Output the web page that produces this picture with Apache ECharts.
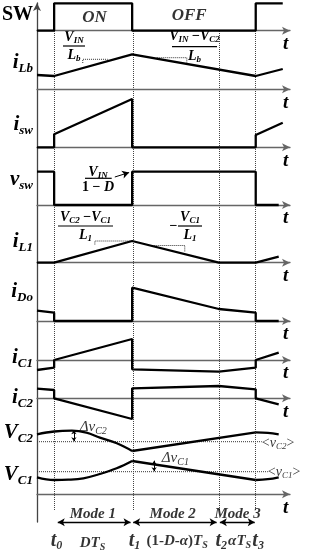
<!DOCTYPE html>
<html><head><meta charset="utf-8">
<script src="https://cdn.jsdelivr.net/npm/echarts@6/dist/echarts.min.js"></script>
<style>html,body{margin:0;padding:0;background:#fff}#c{width:309px;height:550px}</style>
</head><body><div id="c"></div>
<script>
// ---- time instants (units of Ts, t0 = 0) ----
const T0 = 0, T1 = 0.387, T2 = 0.817, T3 = 1.0;
const X_MIN = -0.085, X_MAX = 1.17;

// ---- waveforms (time, value) ----
const swT  = [-0.085, 0, 0, 0.387, 0.387, 1, 1, 1.134];
const swV  = [0, 0, 2.74, 2.74, 0, 0, 2.74, 2.74];
const iLbT = [-0.085, 0, 0.387, 1, 1.134];
const iLbV = [1.43, 1.33, 3.5, 1.33, 2.03];
const iswT = [-0.085, 0, 0, 0.387, 0.387, 1, 1, 1.134];
const iswV = [0, 0, 1.3, 4.83, 0, 0, 1.23, 2.46];
const vswT = [-0.085, 0, 0, 0.387, 0.387, 1, 1, 1.114];
const vswV = [3.33, 3.33, 0, 0, 3.33, 3.33, 0, 0];
const iL1T = [-0.085, 0, 0.387, 0.817, 1, 1.114];
const iL1V = [0, 0, 2.17, 0, 0, 0.6];
const iDoT = [-0.085, 0, 0, 0.387, 0.387, 0.817, 1, 1, 1.114];
const iDoV = [1.03, 0.83, 0, 0, 3.33, 1.2, 0.83, 0, 0];
const iC1T = [-0.085, 0, 0, 0.387, 0.387, 0.817, 1, 1, 1.114];
const iC1V = [-1.0, -0.77, 0, 2.1, -0.93, -1.17, -0.77, 0, 0.73];
const iC2T = [-0.085, 0, 0, 0.387, 0.387, 0.817, 1, 1, 1.114];
const iC2V = [0.96, 0.83, 0, -2.07, 1.0, 1.23, 0.9, 0, -0.6];
// capacitor voltages (deviation from mean): curved, linear, curved parts
const vC2aT = [-0.085, 0, 0.088, 0.16, 0.227, 0.311, 0.387];
const vC2aV = [0.74, 1.02, 1.1, 0.9, 0.4, -0.16, -0.93];
const vC2bT = [0.387, 1.0];
const vC2bV = [-0.93, 0.94];
const vC2cT = [1.0, 1.06, 1.114];
const vC2cV = [0.94, 0.88, 0.74];
const vC1aT = [-0.085, 0, 0.07, 0.145, 0.227, 0.31, 0.387];
const vC1aV = [-0.56, -0.83, -0.8, -0.66, -0.23, 0.34, 1.07];
const vC1bT = [0.387, 1.0];
const vC1bV = [1.07, -0.83];
const vC1cT = [1.0, 1.06, 1.114];
const vC1cV = [-0.83, -0.75, -0.56];
// slope-marker dotted corners
const lbSlope1T = [0.142, 0.142, 0.266], lbSlope1V = [2.63, 3.0, 3.0];
const lbSlope2T = [0.509, 0.658, 0.658], lbSlope2V = [3.16, 3.16, 2.68];
const l1Slope1T = [0.202, 0.202, 0.38], l1Slope1V = [1.82, 2.17, 2.17];
const l1Slope2T = [0.474, 0.648, 0.648], l1Slope2V = [1.72, 1.72, 1.07];
// modes
const modeNames = ['Mode 1', 'Mode 2', 'Mode 3'];
const modeStart = [0.018, 0.392, 0.822];
const modeEnd   = [0.379, 0.806, 0.995];
const modeMid   = [0.192, 0.588, 0.91];
// bottom time labels
const instantT = [T0, T1, T2, T3];
const instantLabels = ['{m|t}{s|0}', '{m|t}{s|1}', '{m|t}{s|2}', '{m|t}{s|3}'];

const SERIF = '"Liberation Serif","DejaVu Serif",serif';
const AX = '#666';
const zip = (t, v) => t.map((x, i) => [x, v[i]]);

// panel layout: [top, height, ymin, ymax, axisMode]
const panels = [
  [2.7, 28, 0, 2.8, 'zero'],      // 0 SW
  [49.3, 40, 0, 4, 'zero'],       // 1 iLb
  [97.3, 50, 0, 5, 'zero'],       // 2 isw
  [170, 35, 0, 3.5, 'zero'],      // 3 vsw
  [237.7, 25, 0, 2.5, 'zero'],    // 4 iL1
  [286, 35, 0, 3.5, 'zero'],      // 5 iDo
  [335, 40, -1.5, 2.5, 'zero'],   // 6 iC1
  [383.3, 40, -2.5, 1.5, 'zero'], // 7 iC2
  [426.7, 30, -1.5, 1.5, 'none'], // 8 VC2
  [456.7, 37.6, -2.26, 1.5, 'bottom'], // 9 VC1
  [31, 479, 0, 1, 'none'],        // 10 dotted overlay
  [3, 519, 0, 1, 'none'],         // 11 left axis
  [505, 45, -1, 3.5, 'none']      // 12 mode annotations
];

const grid = [], xAxis = [], yAxis = [];
panels.forEach((p, i) => {
  grid.push({left: 37, right: 19, top: p[0], height: p[1]});
  const show = p[4] !== 'none';
  xAxis.push({
    type: 'value', gridIndex: i, min: X_MIN, max: X_MAX, show: show,
    axisLine: {show: show, onZero: p[4] === 'zero', symbol: ['none', 'arrow'], symbolSize: [6, 8],
      lineStyle: {color: AX, width: 1.3}},
    axisTick: {show: false}, axisLabel: {show: false}, splitLine: {show: false},
    name: 't', nameLocation: 'end', nameGap: -7,
    nameTextStyle: {fontFamily: SERIF, fontSize: 19, fontWeight: 'bold', fontStyle: 'italic', color: '#000',
      verticalAlign: 'top', padding: [4, 0, 0, 0]}
  });
  yAxis.push({
    type: 'value', gridIndex: i, min: p[2], max: p[3], show: i === 11,
    axisLine: {show: i === 11, onZero: false, symbol: ['none', 'arrow'], symbolSize: [6, 8],
      lineStyle: {color: '#444', width: 1.3}},
    axisTick: {show: false}, axisLabel: {show: false}, splitLine: {show: false}
  });
});

const series = [];
function wave(gi, t, v, extra) {
  series.push(Object.assign({type: 'line', xAxisIndex: gi, yAxisIndex: gi, data: zip(t, v), symbol: 'none',
    lineStyle: {color: '#000', width: 2.3}, animation: false, silent: true, clip: false, z: 5}, extra || {}));
}
function dotted(gi, t, v) {
  series.push({type: 'line', xAxisIndex: gi, yAxisIndex: gi, data: zip(t, v), symbol: 'none',
    lineStyle: {color: '#333', width: 1, type: 'dotted'}, animation: false, silent: true, z: 4});
}
function text(gi, x, y, fmt, rich, extra) {
  series.push({type: 'scatter', xAxisIndex: gi, yAxisIndex: gi, data: [[x, y]], symbolSize: 0, silent: true,
    animation: false, z: 6, clip: false,
    label: Object.assign({show: true, position: 'inside', formatter: fmt, rich: rich, color: '#000'}, extra || {})});
}

const BI = {fontFamily: SERIF, fontWeight: 'bold', fontStyle: 'italic', color: '#000'};
const mk = (o) => Object.assign({}, BI, o);

wave(0, swT, swV);
wave(1, iLbT, iLbV);
wave(2, iswT, iswV);
wave(3, vswT, vswV, {markLine: {silent: true, symbol: ['none', 'arrow'], symbolSize: [6, 7], animation: false,
  label: {show: false}, lineStyle: {color: '#000', width: 1, type: 'solid'},
  data: [[{coord: [0.301, 2.8]}, {coord: [0.372, 3.25]}]]}});
wave(4, iL1T, iL1V);
wave(5, iDoT, iDoV);
wave(6, iC1T, iC1V);
wave(7, iC2T, iC2V);
wave(8, vC2aT, vC2aV, {smooth: 0.4});
wave(8, vC2bT, vC2bV);
wave(8, vC2cT, vC2cV, {smooth: 0.4});
wave(9, vC1aT, vC1aV, {smooth: 0.4});
wave(9, vC1bT, vC1bV);
wave(9, vC1cT, vC1cV, {smooth: 0.4});

dotted(1, lbSlope1T, lbSlope1V);
dotted(1, lbSlope2T, lbSlope2V);
dotted(4, l1Slope1T, l1Slope1V);
dotted(4, l1Slope2T, l1Slope2V);
dotted(8, [X_MIN, 1.03], [0, 0]);
dotted(9, [X_MIN, 1.06], [0, 0]);

// delta arrows
function dArrow(gi, x, y0, y1) {
  series.push({type: 'line', xAxisIndex: gi, yAxisIndex: gi, data: [], animation: false, silent: true,
    markLine: {silent: true, symbol: ['arrow', 'arrow'], symbolSize: [4, 4], animation: false, label: {show: false},
      lineStyle: {color: '#000', width: 1, type: 'solid'}, data: [[{coord: [x, y0]}, {coord: [x, y1]}]]}});
}
dArrow(8, 0.098, 0.05, 1.15);
dArrow(9, 0.496, 0.05, 1.1);

// vertical dotted lines at t0..t3
series.push({type: 'line', xAxisIndex: 10, yAxisIndex: 10, data: [], animation: false, silent: true,
  markLine: {silent: true, symbol: 'none', animation: false, label: {show: false},
    lineStyle: {color: '#444', width: 1, type: 'dotted'},
    data: instantT.map(t => ({xAxis: t}))}});

// mode arrows
series.push({type: 'line', xAxisIndex: 12, yAxisIndex: 12, data: [], animation: false, silent: true,
  markLine: {silent: true, symbol: ['arrow', 'arrow'], symbolSize: [6, 7], animation: false, label: {show: false},
    lineStyle: {color: '#000', width: 1.3, type: 'solid'},
    data: modeNames.map((n, i) => [{coord: [modeStart[i], 1.77]}, {coord: [modeEnd[i], 1.77]}])}});
modeNames.forEach((n, i) => text(12, modeMid[i], 2.6, n, {}, mk({fontSize: 15})));

const RT = {m: mk({fontSize: 20, lineHeight: 22}), s: mk({fontSize: 12, lineHeight: 12, verticalAlign: 'bottom'})};
instantT.forEach((t, i) => text(12, t + 0.012, -0.05, instantLabels[i], RT));
const RS = {a: mk({fontSize: 15, lineHeight: 18}), b: mk({fontSize: 15, lineHeight: 18, fontStyle: 'normal'}),
  s: mk({fontSize: 10, lineHeight: 10, verticalAlign: 'bottom'})};
text(12, 0.19, -0.3, '{a|DT}{s|S}', RS);
text(12, 0.61, -0.1, '{b|(1-}{a|D}{b|-}{a|α}{b|)}{a|T}{s|S}', RS);
text(12, 0.92, -0.1, '{a|αT}{s|S}', RS);

// ON / OFF
text(0, 0.2, 1.35, 'ON', {}, mk({fontSize: 17}));
text(0, 0.67, 1.55, 'OFF', {}, mk({fontSize: 17}));

// delta labels / mean labels
const RD = {a: mk({fontSize: 15, lineHeight: 18, fontWeight: 'normal'}), s: mk({fontSize: 10, lineHeight: 10, verticalAlign: 'bottom', fontWeight: 'normal'})};
text(8, 0.127, 1.44, '{a|Δv}{s|C2}', RD, {position: 'right', distance: 0});
text(9, 0.534, 1.37, '{a|Δv}{s|C1}', RD, {position: 'right', distance: 0});
const RM = {a: mk({fontSize: 14, lineHeight: 16, fontWeight: 'normal', fontStyle: 'normal'}), v: mk({fontSize: 14, lineHeight: 16, fontWeight: 'normal'}),
  s: mk({fontSize: 9, lineHeight: 9, verticalAlign: 'bottom', fontWeight: 'normal'})};
text(8, 1.03, -0.13, '{a|<}{v|v}{s|C2}{a|>}', RM, {position: 'right', distance: 0});
text(9, 1.06, -0.03, '{a|<}{v|v}{s|C1}{a|>}', RM, {position: 'right', distance: 0});

// ---- graphic: left labels and slope fractions ----
const RL = {m: mk({fontSize: 21, lineHeight: 24}), s: mk({fontSize: 13, lineHeight: 13, verticalAlign: 'bottom'}),
  M: mk({fontSize: 20, lineHeight: 24, fontStyle: 'normal'})};
const leftLabels = [
  ['{M|SW}', 15], ['{m|i}{s|Lb}', 63], ['{m|i}{s|sw}', 125], ['{m|v}{s|sw}', 180], ['{m|i}{s|L1}', 242],
  ['{m|i}{s|Do}', 292], ['{m|i}{s|C1}', 358], ['{m|i}{s|C2}', 398], ['{m|V}{s|C2}', 433], ['{m|V}{s|C1}', 475]
];
const graphic = leftLabels.map(l => ({type: 'text', x: 33, y: l[1],
  style: {text: l[0], rich: RL, align: 'right', verticalAlign: 'middle'}}));

const RF = {a: mk({fontSize: 14, lineHeight: 16}), b: mk({fontSize: 14, lineHeight: 16, fontStyle: 'normal'}),
  s: mk({fontSize: 9, lineHeight: 9, verticalAlign: 'bottom'})};
function frac(cx, x1, x2, yNum, yBar, yDen, num, den) {
  graphic.push({type: 'text', x: cx, y: yNum, style: {text: num, rich: RF, align: 'center', verticalAlign: 'middle'}});
  graphic.push({type: 'line', shape: {x1: x1, y1: yBar, x2: x2, y2: yBar}, style: {stroke: '#000', lineWidth: 1.2}});
  graphic.push({type: 'text', x: cx, y: yDen, style: {text: den, rich: RF, align: 'center', verticalAlign: 'middle'}});
}
frac(74, 63, 85, 37, 46, 55, '{a|V}{s|IN}', '{a|L}{s|b}');
frac(194.5, 172, 217, 36, 46.7, 56, '{a|V}{s|IN}{b| −}{a|V}{s|C2}', '{a|L}{s|b}');
frac(85.5, 58, 113, 217, 226, 235.5, '{a|V}{s|C2}{b| −}{a|V}{s|C1}', '{a|L}{s|1}');
frac(190, 178, 202, 217, 226, 235.5, '{a|V}{s|C1}', '{a|L}{s|1}');
graphic.push({type: 'text', x: 173.5, y: 226, style: {text: '{b|−}', rich: RF, align: 'center', verticalAlign: 'middle'}});
frac(98, 85, 111.7, 172.5, 178.3, 187, '{a|V}{s|IN}', '{b|1 − }{a|D}');

const chart = echarts.init(document.getElementById('c'), null, {renderer: 'canvas'});
chart.setOption({animation: false, backgroundColor: '#fff', grid, xAxis, yAxis, series, graphic});
</script></body></html>
